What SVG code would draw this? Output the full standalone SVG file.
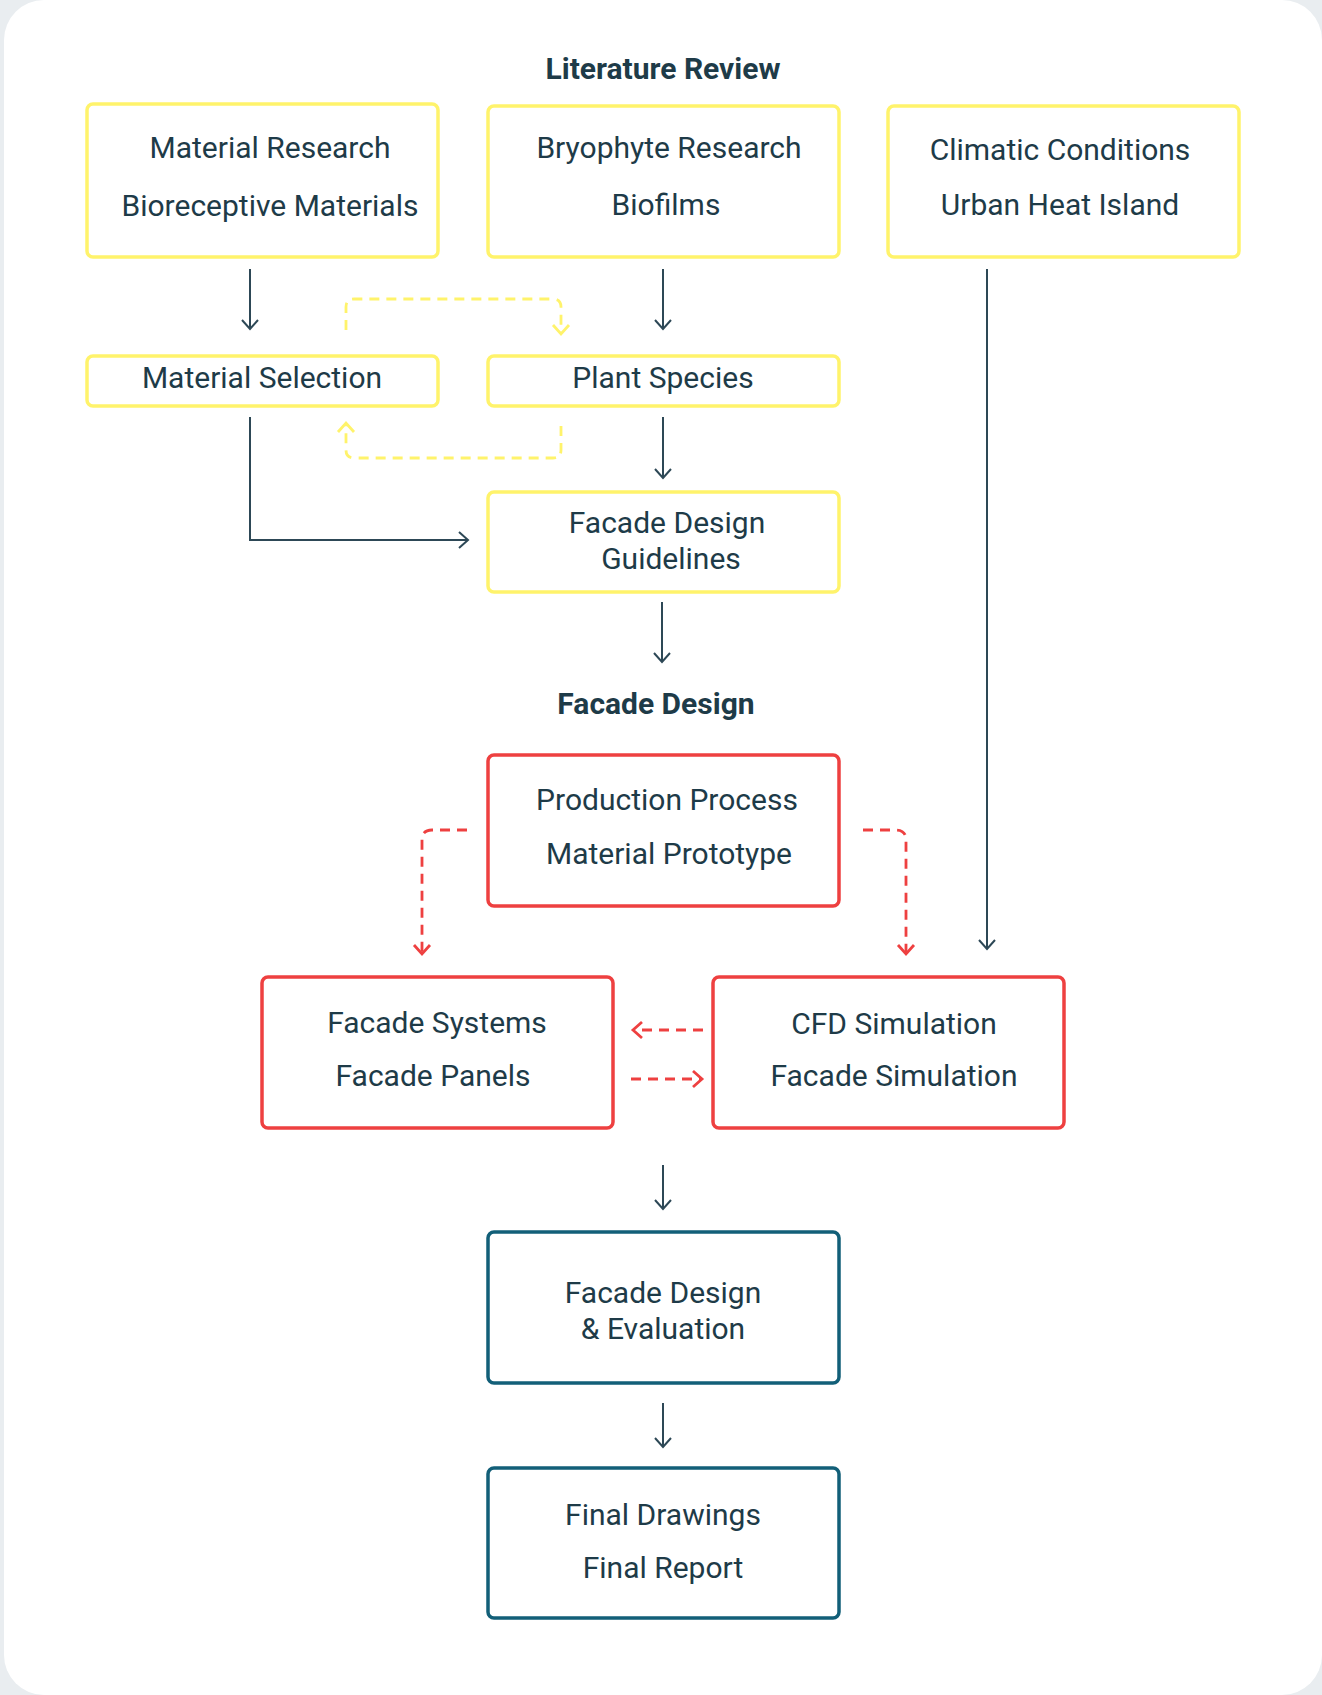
<svg xmlns="http://www.w3.org/2000/svg" width="1322" height="1695" viewBox="0 0 1322 1695">
<style>
.t{font-family:Roboto,"Liberation Sans",sans-serif;font-size:30px;fill:#1e3b48;text-anchor:middle}
.h{font-weight:bold}
.y{fill:#fff;stroke:#fff36b;stroke-width:3.5}
.r{fill:#fff;stroke:#ee4040;stroke-width:3.5}
.b{fill:#fff;stroke:#125f78;stroke-width:3.5}
.c{fill:none;stroke:#2d4856;stroke-width:2}
.cy{fill:none;stroke:#fff36b;stroke-width:2.8;stroke-dasharray:10 7}
.cr{fill:none;stroke:#ee4040;stroke-width:2.8;stroke-dasharray:10 7}
</style>
<defs>
<marker id="a" markerUnits="userSpaceOnUse" markerWidth="20" markerHeight="20" refX="10" refY="10" orient="auto"><path d="M1,2 L10,10 L1,18" fill="none" stroke="#2d4856" stroke-width="2"/></marker>
<marker id="ay" markerUnits="userSpaceOnUse" markerWidth="20" markerHeight="20" refX="10" refY="10" orient="auto"><path d="M1,2 L10,10 L1,18" fill="none" stroke="#fff36b" stroke-width="2.8"/></marker>
<marker id="ar" markerUnits="userSpaceOnUse" markerWidth="20" markerHeight="20" refX="10" refY="10" orient="auto"><path d="M1,2 L10,10 L1,18" fill="none" stroke="#ee4040" stroke-width="2.8"/></marker>
</defs>
<rect x="0" y="0" width="1322" height="1695" fill="#e9edf0"/>
<rect x="4" y="0" width="1318" height="1695" rx="40" fill="#ffffff"/>
<text class="t h" x="663" y="79">Literature Review</text>
<text class="t h" x="656" y="714">Facade Design</text>
<g id="connectors">
<path class="c" d="M250,269 V329" marker-end="url(#a)"/>
<path class="c" d="M663,269 V329" marker-end="url(#a)"/>
<path class="c" d="M987,269 V949" marker-end="url(#a)"/>
<path class="c" d="M663,417 V478" marker-end="url(#a)"/>
<path class="c" d="M250,417 V540 H468" marker-end="url(#a)"/>
<path class="c" d="M662,602 V662" marker-end="url(#a)"/>
<path class="c" d="M663,1165 V1209" marker-end="url(#a)"/>
<path class="c" d="M663,1403 V1447" marker-end="url(#a)"/>
<path class="cy" d="M346,330 V307 Q346,299 354,299 H553 Q561,299 561,307 V334" marker-end="url(#ay)"/>
<path class="cy" d="M561,426 V450 Q561,458 553,458 H354 Q346,458 346,450 V423" marker-end="url(#ay)"/>
<path class="cr" d="M467,830 H432 Q422,830 422,840 V954" marker-end="url(#ar)"/>
<path class="cr" d="M863,830 H896 Q906,830 906,840 V954" marker-end="url(#ar)"/>
<path class="cr" d="M703,1030 H633" marker-end="url(#ar)"/>
<path class="cr" d="M631,1079 H702" marker-end="url(#ar)"/>
</g>
<g id="material-research"><rect class="y" x="87" y="104" width="351" height="153" rx="6"/><text class="t" x="270" y="158">Material Research</text><text class="t" x="270" y="216">Bioreceptive Materials</text></g>
<g id="bryophyte-research"><rect class="y" x="488" y="106" width="351" height="151" rx="6"/><text class="t" x="669" y="158">Bryophyte Research</text><text class="t" x="666" y="215">Biofilms</text></g>
<g id="climatic-conditions"><rect class="y" x="888" y="106" width="351" height="151" rx="6"/><text class="t" x="1060" y="160">Climatic Conditions</text><text class="t" x="1060" y="215">Urban Heat Island</text></g>
<g id="material-selection"><rect class="y" x="87" y="356" width="351" height="50" rx="6"/><text class="t" x="262" y="388">Material Selection</text></g>
<g id="plant-species"><rect class="y" x="488" y="356" width="351" height="50" rx="6"/><text class="t" x="663" y="388">Plant Species</text></g>
<g id="facade-design-guidelines"><rect class="y" x="488" y="492" width="351" height="100" rx="6"/><text class="t" x="667" y="533">Facade Design</text><text class="t" x="671" y="569">Guidelines</text></g>
<g id="production-process"><rect class="r" x="488" y="755" width="351" height="151" rx="6"/><text class="t" x="667" y="810">Production Process</text><text class="t" x="669" y="864">Material Prototype</text></g>
<g id="facade-systems"><rect class="r" x="262" y="977" width="351" height="151" rx="6"/><text class="t" x="437" y="1033">Facade Systems</text><text class="t" x="433" y="1086">Facade Panels</text></g>
<g id="cfd-simulation"><rect class="r" x="713" y="977" width="351" height="151" rx="6"/><text class="t" x="894" y="1034">CFD Simulation</text><text class="t" x="894" y="1086">Facade Simulation</text></g>
<g id="facade-design-evaluation"><rect class="b" x="488" y="1232" width="351" height="151" rx="6"/><text class="t" x="663" y="1303">Facade Design</text><text class="t" x="663" y="1339">&amp; Evaluation</text></g>
<g id="final-drawings"><rect class="b" x="488" y="1468" width="351" height="150" rx="6"/><text class="t" x="663" y="1525">Final Drawings</text><text class="t" x="663" y="1578">Final Report</text></g>
</svg>
